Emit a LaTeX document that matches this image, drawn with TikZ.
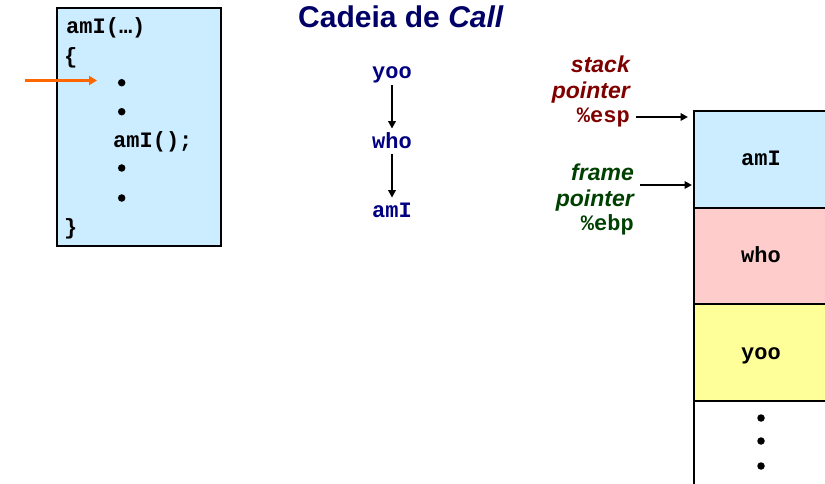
\documentclass[tikz,border=0pt]{standalone}
\usepackage{fontspec}
\setmainfont{Liberation Sans}
\newfontfamily\courfont{Liberation Mono}
\usetikzlibrary{arrows.meta}
\definecolor{titlenavy}{HTML}{000066}
\definecolor{chainnavy}{HTML}{000080}
\definecolor{espred}{HTML}{800000}
\definecolor{ebpgreen}{HTML}{004000}
\definecolor{boxblue}{HTML}{CCECFF}
\definecolor{boxpink}{HTML}{FFCCCC}
\definecolor{boxyellow}{HTML}{FFFF99}
\definecolor{arroworange}{HTML}{FF6600}
\tikzset{
  code/.style={font=\courfont\bfseries\fontsize{22}{26}\selectfont, inner sep=0pt, anchor=base west},
  codebox/.style={draw=black, line width=2pt, fill=boxblue, minimum width=164pt, minimum height=238pt, inner sep=0pt},
  bullet/.style={circle, fill=black, inner sep=0pt, minimum size=7.5pt},
  title/.style={font=\bfseries\fontsize{30}{36}\selectfont, text=titlenavy, inner sep=0pt, anchor=base west},
  chainfn/.style={font=\courfont\bfseries\fontsize{22}{26}\selectfont, text=chainnavy, inner sep=0pt, text height=14pt, text depth=4pt},
  chainarrow/.style={line width=2pt, -{Triangle[length=7.5pt,width=7.5pt]}, shorten <=2pt, shorten >=5.5pt},
  stackbox/.style={draw=black, line width=2pt, minimum width=134pt, inner sep=0pt, font=\courfont\bfseries\fontsize{22}{26}\selectfont, text height=13pt, text depth=0pt},
  lbl/.style={font=\bfseries\itshape\fontsize{23}{26}\selectfont, inner sep=0pt, anchor=base east},
  reg/.style={font=\courfont\bfseries\fontsize{22}{26}\selectfont, inner sep=0pt, anchor=base east},
  ptr/.style={line width=2pt, -{Triangle[length=7.5pt,width=7.5pt]}},
  pcarrow/.style={line width=3.5pt, draw=arroworange, -{Triangle[length=8pt,width=9pt]}}
}
\begin{document}
\begin{tikzpicture}[x=1pt,y=-1pt]
\useasboundingbox (0,0) rectangle (825,484);

% code box
\node[codebox] (codebox) at (139,127) {};
\node[code] (l1) at (66,34) {amI(…)};
\node[code] (l2) at (64,64) {\{};
\node[bullet] (b1) at (121.7,82.7) {};
\node[bullet] (b2) at (121.7,111.7) {};
\node[code] (l3) at (113,148) {amI();};
\node[bullet] (b3) at (121.7,168) {};
\node[bullet] (b4) at (121.7,198) {};
\node[code] (l4) at (64,234) {\}};
\coordinate (pcTail) at (25,80.5);
\coordinate (pcTip) at (97,80.5);
\draw[pcarrow] (pcTail) -- (pcTip);

% title
\node[title] (ttl) at (298,28) {Cadeia de \textit{Call}};

% call chain
\node[chainfn, anchor=base] (cyoo) at (392,79) {yoo};
\node[chainfn, anchor=base] (cwho) at (392,148.3) {who};
\node[chainfn, anchor=base] (cami) at (392,217.3) {amI};
\draw[chainarrow] (cyoo.south) -- (cwho.north);
\draw[chainarrow] (cwho.south) -- (cami.north);

% stack
\node[stackbox, fill=white, minimum height=100pt] (srest) at (761,451) {};
\node[stackbox, fill=boxblue, minimum height=97pt] (sami) at (761,159.2) {amI};
\node[stackbox, fill=boxpink, minimum height=96pt] (swho) at (761,256) {who};
\node[stackbox, fill=boxyellow, minimum height=97pt] (syoo) at (761,352.5) {yoo};
\node[bullet] (sd1) at (761,418) {};
\node[bullet] (sd2) at (761,441) {};
\node[bullet] (sd3) at (761,466) {};

% stack pointer label
\node[lbl, text=espred] (sp1) at (630,73) {stack};
\node[lbl, text=espred] (sp2) at (630,99) {pointer};
\node[reg, text=espred] (sp3) at (630,123) {\%esp};
\coordinate (espTail) at (636,117);
\coordinate (espTip) at (688,117);
\draw[ptr] (espTail) -- (espTip);

% frame pointer label
\node[lbl, text=ebpgreen] (fp1) at (634,180) {frame};
\node[lbl, text=ebpgreen] (fp2) at (634,206) {pointer};
\node[reg, text=ebpgreen] (fp3) at (634,230) {\%ebp};
\coordinate (ebpTail) at (640,185);
\coordinate (ebpTip) at (692,185);
\draw[ptr] (ebpTail) -- (ebpTip);
\end{tikzpicture}
\end{document}
